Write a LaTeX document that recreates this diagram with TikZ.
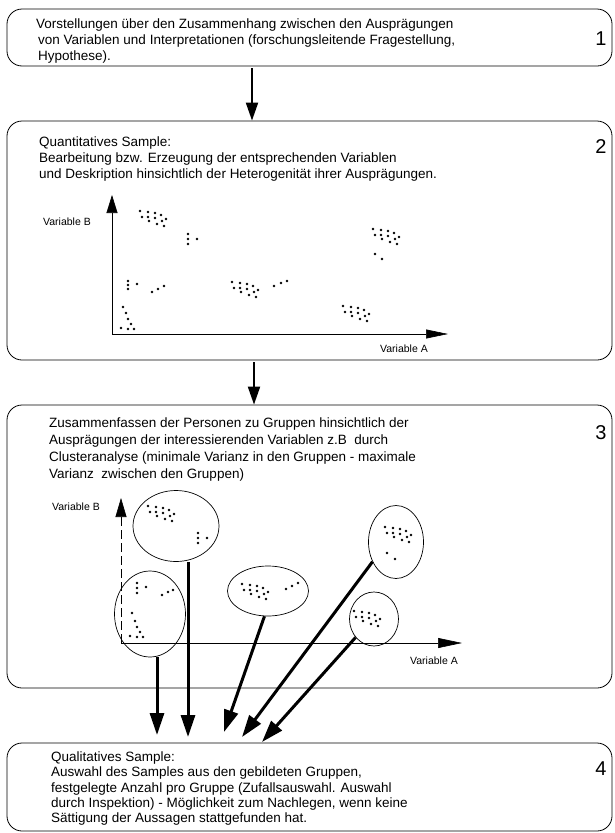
\documentclass[tikz,border=0pt]{standalone}
\usepackage{fontspec}
\setmainfont{Liberation Sans}
\usetikzlibrary{arrows.meta,shapes.geometric}
\begin{document}
\begin{tikzpicture}[x=1pt,y=-1pt,
  box/.style={draw, line width=0.8pt, rounded corners=15pt, inner sep=0pt},
  txt/.style={anchor=base west, inner sep=0pt, font=\fontsize{13.5}{16}\selectfont},
  num/.style={inner sep=0pt, font=\fontsize{20}{22}\selectfont},
  lab/.style={inner sep=0pt, font=\fontsize{10.5}{12}\selectfont},
  grp/.style={draw, ellipse, line width=0.7pt, inner sep=0pt},
  flow/.style={line width=2pt, -{Triangle[length=18pt,width=12pt]}},
  pick/.style={line width=3pt, -{Triangle[length=22pt,width=14pt]}},
  axis/.style={line width=0.6pt},
  cl/.pic={\foreach \u/\v in {0/0,8/1,15/2,21/4,2/6,8/6,15/7,26/8,9/10,17/13,24/15,22/10}{\fill (\u,\v) circle[radius=1.4pt];}}
]
\useasboundingbox (0,0) rectangle (615,833);

% boxes
\node[box, minimum width=605pt, minimum height=57pt] (b1) at (309.5,37.5) {};
\node[box, minimum width=605pt, minimum height=239pt] (b2) at (309.5,240.5) {};
\node[box, minimum width=605pt, minimum height=283pt] (b3) at (309.5,546.5) {};
\node[box, minimum width=605pt, minimum height=88pt] (b4) at (309.5,787) {};

% box 1 text
\node[txt] (t11) at (36,28) {Vorstellungen über den Zusammenhang zwischen den Ausprägungen};
\node[txt] (t12) at (38,44) {von Variablen und Interpretationen (forschungsleitende Fragestellung,};
\node[txt] (t13) at (38,60) {Hypothese).};
\node[num] (n1) at (601,39) {1};

% box 2 text
\node[txt] (t21) at (39,146) {Quantitatives Sample:};
\node[txt] (t22) at (39,162) {Bearbeitung bzw. Erzeugung der entsprechenden Variablen};
\node[txt] (t23) at (39,178) {und Deskription hinsichtlich der Heterogenität ihrer Ausprägungen.};
\node[num] (n2) at (601,147) {2};

% box 3 text
\node[txt] (t31) at (49,427) {Zusammenfassen der Personen zu Gruppen hinsichtlich der};
\node[txt] (t32) at (49,444) {Ausprägungen der interessierenden Variablen z.B\ \ durch};
\node[txt] (t33) at (49,461) {Clusteranalyse (minimale Varianz in den Gruppen - maximale};
\node[txt] (t34) at (49,478) {Varianz\ \ zwischen den Gruppen)};
\node[num] (n3) at (601,433) {3};

% box 4 text
\node[txt] (t41) at (51,761) {Qualitatives Sample:};
\node[txt] (t42) at (51,776) {Auswahl des Samples aus den gebildeten Gruppen,};
\node[txt] (t43) at (51,792) {festgelegte Anzahl pro Gruppe (Zufallsauswahl. Auswahl};
\node[txt] (t44) at (51,807) {durch Inspektion) - Möglichkeit zum Nachlegen, wenn keine};
\node[txt] (t45) at (51,822) {Sättigung der Aussagen stattgefunden hat.};
\node[num] (n4) at (601,769) {4};

% arrows between boxes
\coordinate (a1) at (252,0);
\coordinate (a2) at (254,0);
\draw[flow] (b1.south -| a1) ++(0,2) -- (b2.north -| a1);
\draw[flow] (b2.south -| a2) ++(0,2) -- (b3.north -| a2);

% scatter in box 2
\coordinate (O2) at (112,334);
\coordinate (Y2) at (112,195);
\coordinate (X2) at (448,334);
\draw[axis, -{Triangle[length=18pt,width=11pt]}] (O2) -- (Y2);
\draw[axis, -{Triangle[length=22pt,width=9pt]}] (O2) -- (X2);
\node[lab] (vb2) at (67,222) {Variable B};
\node[lab] (va2) at (404,349) {Variable A};
\pic at (140,211) {cl};
\pic at (232,282) {cl};
\pic at (373,229) {cl};
\pic at (343,306) {cl};
\foreach \u/\v in {188/234,188/239,188/244,197/239,128/281,128/285,128/289,137/284,152/292,158/289,164/286,123/307,126/313,128/319,131/324,121/328,128/329,134/329,274/286,281/283,287/281,375/254,382/259}
  {\fill (\u,\v) circle[radius=1.4pt];}

% scatter in box 3
\coordinate (O3) at (121,643);
\coordinate (Y3) at (121,498);
\coordinate (X3) at (462,643);
\draw[axis, dash pattern=on 9pt off 4pt, -{Triangle[length=19pt,width=11pt]}] (O3) -- (Y3);
\draw[axis, -{Triangle[length=24pt,width=10pt]}] (O3) -- (X3);
\node[lab] (vb3) at (76,507) {Variable B};
\node[lab] (va3) at (434,661) {Variable A};
\pic at (148,506) {cl};
\pic at (242,584) {cl};
\pic at (385,527) {cl};
\pic at (354,611) {cl};
\foreach \u/\v in {198/533,198/538,198/543,207/538,137/583,137/588,137/593,146/587,162/595,168/592,173/590,132/613,135/621,137/627,140/632,130/636,137/637,143/637,286/589,292/586,298/583,387/553,395/559}
  {\fill (\u,\v) circle[radius=1.4pt];}

% groups
\node[grp, minimum width=86pt, minimum height=71pt] (cA) at (176,526) {};
\node[grp, minimum width=71pt, minimum height=86pt] (cB) at (150,614) {};
\node[grp, minimum width=81pt, minimum height=50pt] (cC) at (268,591) {};
\node[grp, minimum width=55pt, minimum height=73pt] (cD) at (396,542) {};
\node[grp, minimum width=49pt, minimum height=54pt] (cE) at (374,619) {};

% selection arrows
\coordinate (tA) at (188,737);
\coordinate (tB) at (157,735);
\coordinate (tC) at (224,732);
\coordinate (tD) at (242,737);
\coordinate (tE) at (262,742);
\draw[pick] (tA |- cA.south) -- (tA);
\draw[pick] (tB |- cB.south) -- (tB);
\draw[pick] (cC.262) -- (tC);
\draw[pick] (cD.220) -- (tD);
\draw[pick] (cE.225) -- (tE);
\end{tikzpicture}
\end{document}
